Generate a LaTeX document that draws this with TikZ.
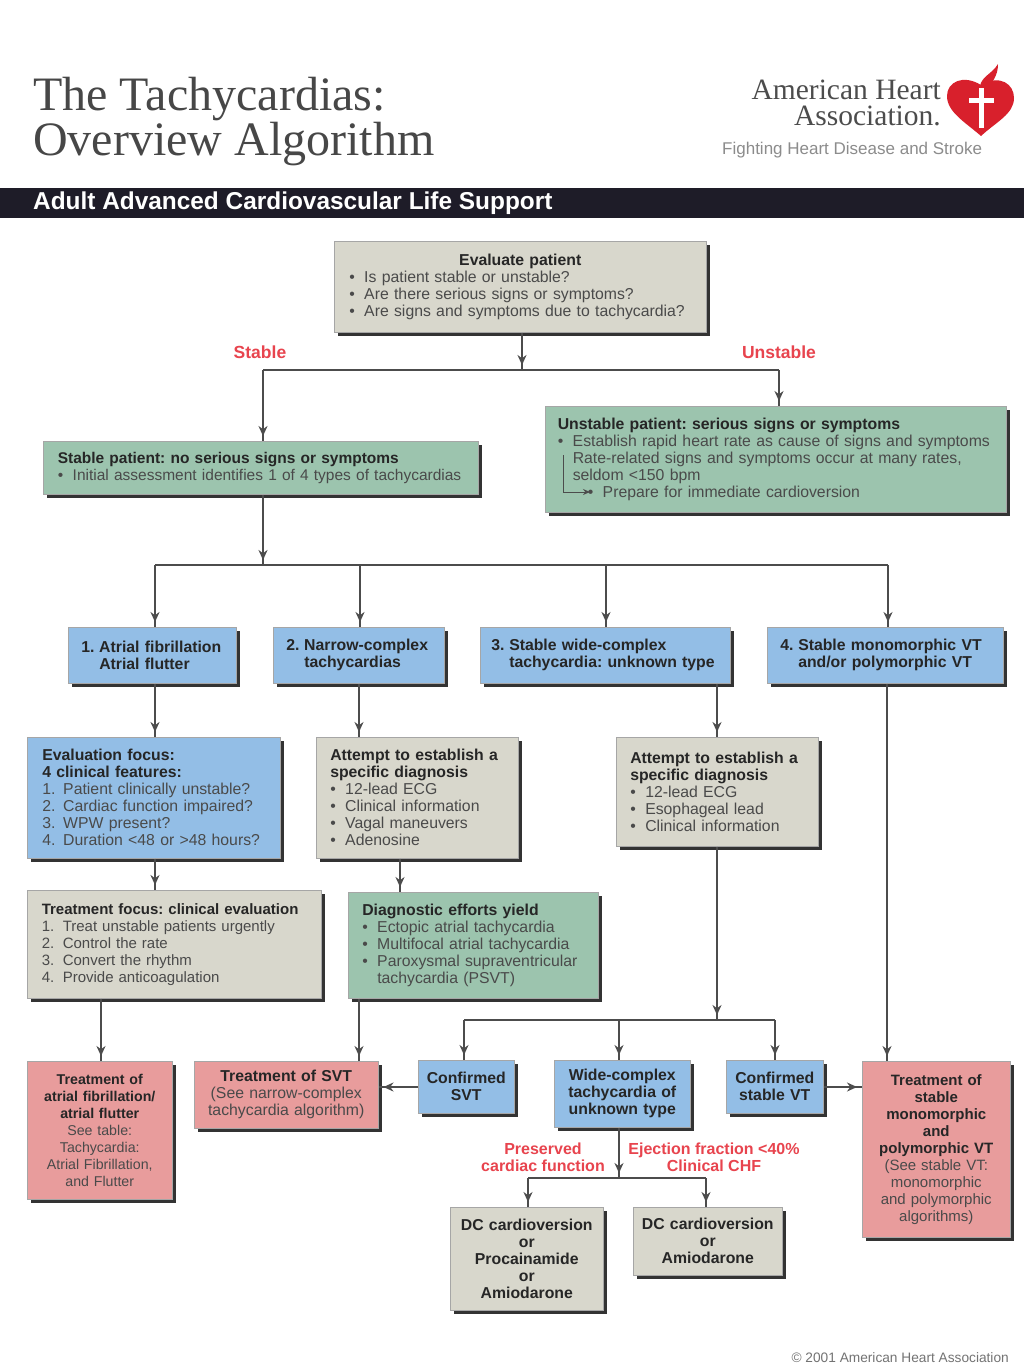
\documentclass[tikz,border=0pt]{standalone}
\usepackage{fontspec}
\setmainfont{Liberation Sans}
\newfontfamily\serifname{Liberation Serif}
\usetikzlibrary{arrows.meta,shadows,decorations.markings}
\definecolor{barcolor}{HTML}{1E1C28}
\definecolor{greyfill}{HTML}{D8D7CC}
\definecolor{greenfill}{HTML}{9CC4AE}
\definecolor{bluefill}{HTML}{93BEE6}
\definecolor{redfill}{HTML}{E89C9C}
\definecolor{labelred}{HTML}{E8444E}
\definecolor{heartred}{HTML}{D8202C}
\definecolor{bodygrey}{HTML}{4A4A4A}
\newcommand{\itm}[3][15pt]{\makebox[#1][l]{#2}#3}
\newcommand{\hd}[1]{{\bfseries\color{black!85}#1}}
\tikzset{
    panel/.style={draw=black!35,line width=0.5pt,anchor=north west,inner sep=0pt,
        text=bodygrey,font=\fontsize{15.8}{17}\selectfont,
        drop shadow={shadow xshift=4pt,shadow yshift=-4pt,fill=black!80,opacity=1}},
    greybox/.style={panel,fill=greyfill},
    greenbox/.style={panel,fill=greenfill},
    bluebox/.style={panel,fill=bluefill},
    redbox/.style={panel,fill=redfill},
    size/.style n args={2}{minimum width=#1,minimum height=#2},
    list/.style={align=left,text width=#1},
    mid/.style={align=center,text width=#1},
    link/.style={draw=black!70,line width=1.6pt},
    arrow/.style={link,postaction={decorate},decoration={markings,
        mark=at position -5pt with {\arrow{Stealth[length=10pt,width=9pt]}}}},
    branch/.style={font=\fontsize{16}{17}\selectfont\bfseries,text=labelred,align=center},
    branchtop/.style={font=\fontsize{17.5}{18}\selectfont\bfseries,text=labelred}
}
\begin{document}
\frenchspacing
\begin{tikzpicture}[x=1pt,y=-1pt]
    \useasboundingbox (0,0) rectangle (1024,1366);
    \fill[white] (0,0) rectangle (1024,1366);
    \node[anchor=west,font=\serifname\fontsize{48}{45}\selectfont,text=black!72,align=left,inner sep=0pt] (title) at (33,122) {The Tachycardias:\\Overview Algorithm};
    \node[anchor=east,font=\serifname\fontsize{29.5}{26}\selectfont,text=black!70,align=right,inner sep=0pt] (aha) at (941,103) {American Heart\\Association.};
    \node[anchor=west,font=\fontsize{17}{18}\selectfont,text=black!45,inner sep=0pt] (motto) at (722,150) {Fighting Heart Disease and Stroke};
    \fill[heartred] (981,136) .. controls (965,122) and (947,112) .. (947,96) .. controls (947,82) and (963,74) .. (981,85) .. controls (1000,74) and (1014,84) .. (1014,98) .. controls (1014,114) and (996,122) .. (981,136);
    \fill[heartred] (980,86) .. controls (982,76) and (992,74) .. (998,64) .. controls (998,76) and (992,82) .. (988,88);
    \fill[white] (979,88) rectangle (984,128);
    \fill[white] (969,98) rectangle (994,103);
    \fill[barcolor] (0,188) rectangle (1024,218);
    \node[anchor=west,font=\fontsize{24.4}{25}\selectfont\bfseries,text=white,inner sep=0pt] (band) at (33,203) {Adult Advanced Cardiovascular Life Support};

    \node[greybox,size={372pt}{91pt},list=342pt] (evaluate) at (334,241) {\makebox[342pt][c]{\hd{Evaluate patient}}\\
        \itm{•}{Is patient stable or unstable?}\\\itm{•}{Are there serious signs or symptoms?}\\\itm{•}{Are signs and symptoms due to tachycardia?}};
    \node[greenbox,size={435pt}{53pt},list=406pt,font=\fontsize{15.5}{17}\selectfont] (stable) at (43,441) {\hd{Stable patient: no serious signs or symptoms}\\
        \itm{•}{Initial assessment identifies 1 of 4 types of tachycardias}};
    \node[greenbox,size={461pt}{106pt},list=436pt] (unstable) at (545,406) {\hd{Unstable patient: serious signs or symptoms}\\
        \itm{•}{Establish rapid heart rate as cause of signs and symptoms}\\
        \itm{}{Rate-related signs and symptoms occur at many rates,}\\
        \itm{}{seldom <150 bpm}\\
        \hspace{30pt}\itm{•}{Prepare for immediate cardioversion}};
    \node[bluebox,size={168pt}{56pt},list=142pt] (type1) at (68,627) {\hd{\itm[18pt]{1.}{Atrial fibrillation}}\\\hd{\itm[18pt]{}{Atrial flutter}}};
    \node[bluebox,size={171pt}{56pt},list=145pt] (type2) at (273,627) {\hd{\itm[18pt]{2.}{Narrow-complex}}\\\hd{\itm[18pt]{}{tachycardias}}};
    \node[bluebox,size={250pt}{56pt},list=228pt] (type3) at (480,627) {\hd{\itm[18pt]{3.}{Stable wide-complex}}\\\hd{\itm[18pt]{}{tachycardia: unknown type}}};
    \node[bluebox,size={236pt}{56pt},list=210pt] (type4) at (767,627) {\hd{\itm[18pt]{4.}{Stable monomorphic VT}}\\\hd{\itm[18pt]{}{and/or polymorphic VT}}};
    \node[bluebox,size={253pt}{121pt},list=223pt] (focus) at (27,737) {\hd{Evaluation focus:}\\\hd{4 clinical features:}\\
        \itm[21pt]{1.}{Patient clinically unstable?}\\\itm[21pt]{2.}{Cardiac function impaired?}\\\itm[21pt]{3.}{WPW present?}\\\itm[21pt]{4.}{Duration <48 or >48 hours?}};
    \node[greybox,size={202pt}{121pt},list=174pt] (attemptA) at (316,737) {\hd{Attempt to establish a}\\\hd{specific diagnosis}\\
        \itm{•}{12-lead ECG}\\\itm{•}{Clinical information}\\\itm{•}{Vagal maneuvers}\\\itm{•}{Adenosine}};
    \node[greybox,size={202pt}{109pt},list=174pt] (attemptB) at (616,737) {\hd{Attempt to establish a}\\\hd{specific diagnosis}\\
        \itm{•}{12-lead ECG}\\\itm{•}{Esophageal lead}\\\itm{•}{Clinical information}};
    \node[greybox,size={294pt}{108pt},list=265pt,font=\fontsize{15}{17}\selectfont] (treatfocus) at (27,890) {\hd{Treatment focus: clinical evaluation}\\
        \itm[21pt]{1.}{Treat unstable patients urgently}\\\itm[21pt]{2.}{Control the rate}\\\itm[21pt]{3.}{Convert the rhythm}\\\itm[21pt]{4.}{Provide anticoagulation}};
    \node[greenbox,size={250pt}{106pt},list=222pt] (yield) at (348,892) {\hd{Diagnostic efforts yield}\\
        \itm{•}{Ectopic atrial tachycardia}\\\itm{•}{Multifocal atrial tachycardia}\\\itm{•}{Paroxysmal supraventricular}\\\itm{}{tachycardia (PSVT)}};
    \node[redbox,size={145pt}{138pt},mid=140pt,font=\fontsize{14.2}{17}\selectfont] (treatAF) at (27,1061) {\hd{Treatment of}\\\hd{atrial fibrillation/}\\\hd{atrial flutter}\\See table:\\Tachycardia:\\Atrial Fibrillation,\\and Flutter};
    \node[redbox,size={184pt}{67pt},mid=178pt] (treatSVT) at (194,1061) {\hd{Treatment of SVT}\\(See narrow-complex\\tachycardia algorithm)};
    \node[bluebox,size={96pt}{53pt},mid=90pt] (confSVT) at (418,1060) {\hd{Confirmed}\\\hd{SVT}};
    \node[bluebox,size={136pt}{67pt},mid=130pt] (widetype) at (554,1060) {\hd{Wide-complex}\\\hd{tachycardia of}\\\hd{unknown type}};
    \node[bluebox,size={97pt}{53pt},mid=90pt] (confVT) at (726,1060) {\hd{Confirmed}\\\hd{stable VT}};
    \node[redbox,size={148pt}{176pt},mid=142pt,font=\fontsize{15}{17}\selectfont] (treatVT) at (862,1061) {\hd{Treatment of}\\\hd{stable}\\\hd{monomorphic}\\\hd{and}\\\hd{polymorphic VT}\\(See stable VT:\\monomorphic\\and polymorphic\\algorithms)};
    \node[greybox,size={153pt}{103pt},mid=148pt] (drugsA) at (450,1207) {\hd{DC cardioversion}\\\hd{or}\\\hd{Procainamide}\\\hd{or}\\\hd{Amiodarone}};
    \node[greybox,size={149pt}{68pt},mid=144pt] (drugsB) at (633,1207) {\hd{DC cardioversion}\\\hd{or}\\\hd{Amiodarone}};

    \node[branchtop] (lblstable) at (260,352) {Stable};
    \node[branchtop] (lblunstable) at (779,352) {Unstable};
    \node[branch] (lblpreserved) at (543,1157) {Preserved\\cardiac function};
    \node[branch] (lblejection) at (714,1157) {Ejection fraction <40\%\\Clinical CHF};
    \node[anchor=east,font=\fontsize{13.7}{14}\selectfont,text=black!55,inner sep=0pt] (copyright) at (1009,1358) {© 2001 American Heart Association};

    \coordinate (jtop) at (522,370);
    \coordinate (jtopL) at (263,370);
    \coordinate (jtopR) at (779,370);
    \coordinate (jtype) at (263,565);
    \coordinate (jtype1) at (155,565);
    \coordinate (jtype2) at (360,565);
    \coordinate (jtype3) at (606,565);
    \coordinate (jtype4) at (888,565);
    \coordinate (jconf) at (717,1020);
    \coordinate (jconfL) at (464,1020);
    \coordinate (jconfM) at (619,1020);
    \coordinate (jconfR) at (775,1020);
    \coordinate (jdrug) at (619,1178);
    \coordinate (jdrugL) at (528,1178);
    \coordinate (jdrugR) at (706,1178);

    \draw[arrow] (jtop |- evaluate.south) -- (jtop);
    \draw[link] (jtopL) -- (jtopR);
    \draw[arrow] (jtopL) -- (jtopL |- stable.north);
    \draw[arrow] (jtopR) -- (jtopR |- unstable.north);
    \draw[arrow] (jtype |- stable.south) -- (jtype);
    \draw[link] (jtype1) -- (jtype4);
    \draw[arrow] (jtype1) -- (jtype1 |- type1.north);
    \draw[arrow] (jtype2) -- (jtype2 |- type2.north);
    \draw[arrow] (jtype3) -- (jtype3 |- type3.north);
    \draw[arrow] (jtype4) -- (jtype4 |- type4.north);
    \draw[arrow] (jtype1 |- type1.south) -- (jtype1 |- focus.north);
    \draw[arrow] (359,0 |- type2.south) -- (359,0 |- attemptA.north);
    \draw[arrow] (jconf |- type3.south) -- (jconf |- attemptB.north);
    \draw[arrow] (887,0 |- type4.south) -- (887,0 |- treatVT.north);
    \draw[arrow] (jtype1 |- focus.south) -- (jtype1 |- treatfocus.north);
    \draw[arrow] (400,0 |- attemptA.south) -- (400,0 |- yield.north);
    \draw[arrow] (101,0 |- treatfocus.south) -- (101,0 |- treatAF.north);
    \draw[arrow] (359,0 |- yield.south) -- (359,0 |- treatSVT.north);
    \draw[arrow] (jconf |- attemptB.south) -- (jconf);
    \draw[link] (jconfL) -- (jconfR);
    \draw[arrow] (jconfL) -- (jconfL |- confSVT.north);
    \draw[arrow] (jconfM) -- (jconfM |- widetype.north);
    \draw[arrow] (jconfR) -- (jconfR |- confVT.north);
    \draw[arrow] (confSVT.west |- 0,1087) -- (treatSVT.east |- 0,1087);
    \draw[arrow] (confVT.east |- 0,1087) -- (treatVT.west |- 0,1087);
    \draw[arrow] (jdrug |- widetype.south) -- (jdrug);
    \draw[link] (jdrugL) -- (jdrugR);
    \draw[arrow] (jdrugL) -- (jdrugL |- drugsA.north);
    \draw[arrow] (jdrugR) -- (jdrugR |- drugsB.north);
    \draw[draw=black!70,line width=1pt,-{Stealth[length=7pt,width=6pt]}] (563,455) -- (563,492) -- (590,492);
\end{tikzpicture}
\end{document}
